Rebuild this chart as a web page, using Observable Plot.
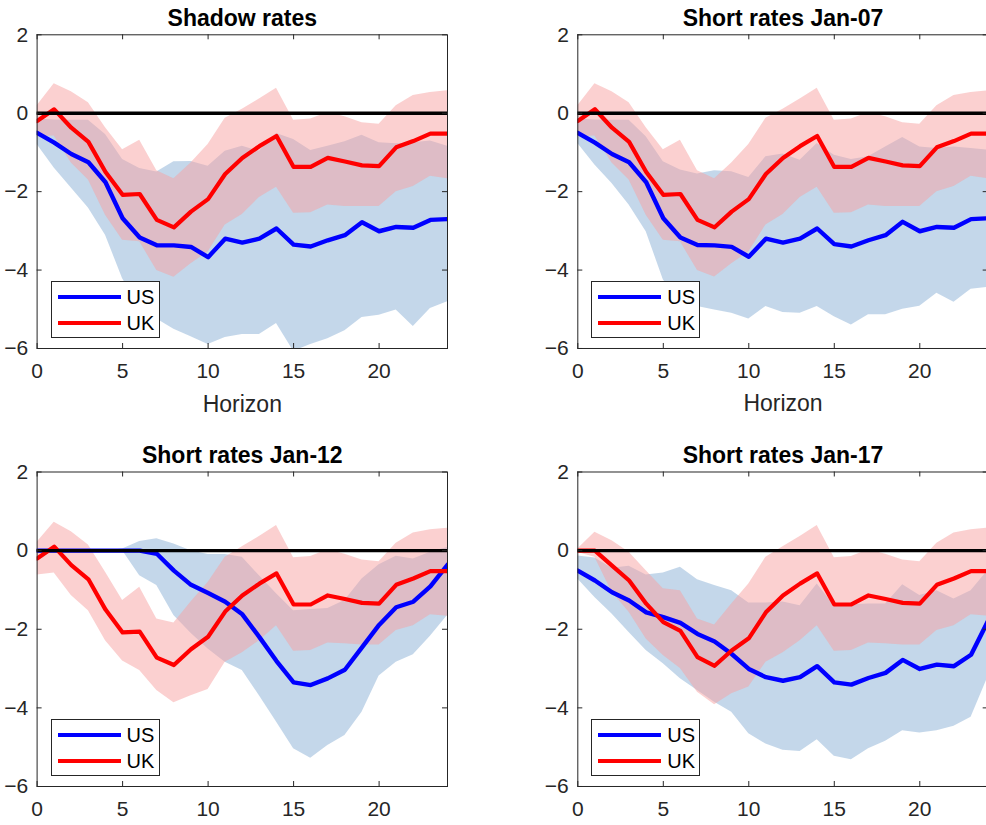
<!DOCTYPE html>
<html>
<head>
<meta charset="utf-8">
<script src="https://cdn.jsdelivr.net/npm/d3@7"></script>
<script src="https://cdn.jsdelivr.net/npm/@observablehq/plot@0.6"></script>
<style>
  html, body { margin: 0; padding: 0; background: #fff; }
  #wrap { position: relative; width: 986px; height: 825px; overflow: hidden; background: #fff; font-family: "Liberation Sans", Arial, Helvetica, sans-serif; }
  .panel { position: absolute; }
  .legend { position: absolute; width: 107px; height: 55px; border: 1px solid #262626; background: #fff; }
  .legend .sw { position: absolute; left: 6px; width: 63px; height: 4px; }
  .legend .lb { position: absolute; left: 75px; font-size: 20px; line-height: 20px; color: #000; }
</style>
</head>
<body>
<div id="wrap"></div>
<script>
// ---------------- data ----------------
const horizon = [0,1,2,3,4,5,6,7,8,9,10,11,12,13,14,15,16,17,18,19,20,21,22,23,24];
const xTicks = [0,5,10,15,20];
const yTicks = [-6,-4,-2,0,2];
const panelTitles = ["Shadow rates","Short rates Jan-07","Short rates Jan-12","Short rates Jan-17"];
const xAxisLabel = "Horizon";
const seriesNames = ["US","UK"];

// US responses (blue line) and bands
const usShadow = [-0.50,-0.75,-1.04,-1.25,-1.76,-2.68,-3.17,-3.37,-3.37,-3.41,-3.67,-3.20,-3.30,-3.20,-2.94,-3.35,-3.40,-3.24,-3.11,-2.78,-3.01,-2.90,-2.92,-2.72,-2.70];
const usHiShadow = [-0.15,-0.17,-0.18,-0.18,-0.54,-1.18,-1.41,-1.50,-1.24,-1.23,-1.35,-0.97,-0.84,-0.97,-0.52,-0.67,-0.95,-0.84,-0.73,-0.56,-0.75,-0.78,-0.75,-0.71,-0.84];
const usLoShadow = [-0.80,-1.40,-1.91,-2.42,-3.11,-4.22,-4.95,-5.25,-5.51,-5.70,-5.90,-5.72,-5.64,-5.64,-5.36,-6.07,-5.90,-5.75,-5.55,-5.21,-5.15,-5.02,-5.44,-4.98,-4.81];

const usJan07 = [-0.50,-0.75,-1.04,-1.25,-1.76,-2.68,-3.17,-3.36,-3.37,-3.41,-3.66,-3.20,-3.30,-3.20,-2.94,-3.34,-3.40,-3.24,-3.11,-2.77,-3.01,-2.90,-2.92,-2.70,-2.68];
const usHiJan07 = [-0.15,-0.17,-0.18,-0.18,-0.60,-1.24,-1.45,-1.55,-1.47,-1.49,-1.64,-1.11,-1.04,-1.20,-0.77,-1.07,-1.18,-1.11,-0.86,-0.62,-0.86,-0.90,-0.86,-0.90,-0.94];
const usLoJan07 = [-0.77,-1.32,-1.79,-2.34,-3.02,-4.25,-4.86,-4.93,-5.02,-5.10,-5.25,-4.93,-5.08,-5.10,-4.93,-5.19,-5.40,-5.14,-5.14,-5.00,-4.92,-4.59,-4.82,-4.49,-4.44];

const usJan12 = [0,0,0,0,0,0,0,-0.08,-0.51,-0.87,-1.08,-1.30,-1.62,-2.20,-2.81,-3.35,-3.42,-3.25,-3.03,-2.46,-1.89,-1.44,-1.30,-0.91,-0.36];
const usHiJan12 = [0,0,0,0,0,0.04,0.23,0.30,0.17,0.00,-0.10,-0.10,-0.17,-0.64,-1.10,-1.53,-1.50,-1.47,-1.27,-0.72,-0.36,-0.14,-0.21,-0.04,0.08];
const usLoJan12 = [0,0,0,0,0,0,-0.64,-0.89,-1.65,-2.10,-2.50,-2.84,-3.05,-3.69,-4.36,-5.04,-5.28,-4.96,-4.70,-4.11,-3.19,-2.84,-2.65,-2.18,-1.65];

const usJan17 = [-0.51,-0.76,-1.06,-1.27,-1.57,-1.69,-1.84,-2.12,-2.31,-2.63,-3.01,-3.22,-3.31,-3.22,-2.94,-3.35,-3.41,-3.24,-3.11,-2.78,-3.01,-2.90,-2.94,-2.65,-1.78];
const usHiJan17 = [-0.14,-0.19,-0.45,-0.40,-0.62,-0.57,-0.42,-0.74,-0.89,-1.02,-1.33,-1.33,-1.31,-1.40,-0.85,-1.40,-1.38,-1.36,-1.36,-0.87,-1.14,-1.02,-1.23,-1.02,-0.50];
const usLoJan17 = [-0.72,-1.19,-1.61,-2.08,-2.54,-2.88,-3.26,-3.56,-3.86,-4.11,-4.66,-4.92,-5.08,-5.11,-4.81,-5.23,-5.32,-5.04,-4.85,-4.58,-4.64,-4.58,-4.47,-4.24,-3.20];

// UK responses (red line) and bands
const ukMain = [-0.20,0.10,-0.37,-0.73,-1.50,-2.08,-2.06,-2.72,-2.91,-2.51,-2.19,-1.55,-1.14,-0.84,-0.58,-1.37,-1.37,-1.14,-1.23,-1.33,-1.35,-0.87,-0.71,-0.52,-0.52];
const ukHiMain = [0.19,0.75,0.55,0.27,-0.37,-0.93,-0.69,-1.47,-1.67,-1.27,-0.80,-0.13,0.10,0.36,0.64,-0.18,-0.15,0.02,-0.09,-0.24,-0.28,0.19,0.45,0.53,0.57];
const ukLoMain = [-0.60,-0.58,-1.27,-1.70,-2.60,-3.24,-3.28,-4.01,-4.18,-3.84,-3.54,-2.85,-2.58,-2.15,-1.89,-2.55,-2.54,-2.34,-2.38,-2.38,-2.38,-2.00,-1.87,-1.61,-1.67];

const ukHiJan12 = [0.21,0.72,0.48,0.14,-0.55,-1.27,-0.93,-1.74,-1.84,-1.31,-0.81,-0.17,0.10,0.36,0.64,-0.18,-0.15,0.02,-0.09,-0.24,-0.28,0.19,0.45,0.53,0.57];
const ukLoJan12 = [-0.62,-0.57,-1.14,-1.53,-2.29,-2.81,-3.05,-3.56,-3.87,-3.69,-3.53,-2.84,-2.60,-2.29,-1.91,-2.56,-2.54,-2.35,-2.37,-2.40,-2.40,-2.03,-1.91,-1.63,-1.67];

const ukJan17 = [0,0,-0.38,-0.76,-1.35,-1.82,-2.04,-2.71,-2.93,-2.54,-2.23,-1.57,-1.14,-0.84,-0.58,-1.37,-1.37,-1.14,-1.23,-1.33,-1.35,-0.87,-0.71,-0.52,-0.52];
const ukHiJan17 = [0.04,0.47,0.25,-0.04,-0.51,-0.97,-1.02,-1.74,-1.89,-1.36,-0.85,-0.17,0.10,0.36,0.64,-0.18,-0.15,0.02,-0.09,-0.24,-0.28,0.19,0.45,0.53,0.57];
const ukLoJan17 = [-0.05,-0.17,-1.06,-1.57,-2.25,-2.67,-3.00,-3.60,-3.92,-3.64,-3.47,-2.84,-2.60,-2.29,-1.91,-2.56,-2.54,-2.35,-2.37,-2.40,-2.40,-2.03,-1.91,-1.63,-1.67];

// ---------------- styles ----------------
const BLUE = "#0000ff", RED = "#ff0000";
const BLUE_BAND = "rgb(137,176,214)", RED_BAND = "rgb(247,161,161)";
const AXIS = "#262626";
const FONT = "'Liberation Sans', Arial, Helvetica, sans-serif";

const panels = [
  {title: panelTitles[0], us: usShadow, usHi: usHiShadow, usLo: usLoShadow, uk: ukMain, ukHi: ukHiMain, ukLo: ukLoMain,
   left: 0, top: 0, mL: 36.6, mR: 46, mT: 34.3, innerH: 313.7, height: 425, xLabel: xAxisLabel},
  {title: panelTitles[1], us: usJan07, usHi: usHiJan07, usLo: usLoJan07, uk: ukMain, ukHi: ukHiMain, ukLo: ukLoMain,
   left: 540, top: 0, mL: 37.3, mR: 10, mT: 34.3, innerH: 313.7, height: 425, xLabel: xAxisLabel},
  {title: panelTitles[2], us: usJan12, usHi: usHiJan12, usLo: usLoJan12, uk: ukMain, ukHi: ukHiJan12, ukLo: ukLoJan12,
   left: 0, top: 437, mL: 36.6, mR: 46, mT: 34.5, innerH: 314.5, height: 388, xLabel: null},
  {title: panelTitles[3], us: usJan17, usHi: usHiJan17, usLo: usLoJan17, uk: ukJan17, ukHi: ukHiJan17, ukLo: ukLoJan17,
   left: 540, top: 437, mL: 37.3, mR: 10, mT: 34.5, innerH: 314.5, height: 388, xLabel: null}
];
const innerW = 410.4;

const wrap = document.getElementById("wrap");

for (const p of panels) {
  const rows = horizon.map((h, i) => ({h, us: p.us[i], usHi: p.usHi[i], usLo: p.usLo[i], uk: p.uk[i], ukHi: p.ukHi[i], ukLo: p.ukLo[i]}));
  const width = p.mL + innerW + p.mR;
  const mB = p.height - p.mT - p.innerH;
  const marks = [
    Plot.areaY(rows, {x: "h", y1: "usLo", y2: "usHi", fill: BLUE_BAND, fillOpacity: 0.5, clip: true}),
    Plot.areaY(rows, {x: "h", y1: "ukLo", y2: "ukHi", fill: RED_BAND, fillOpacity: 0.5, clip: true}),
    Plot.lineY(rows, {x: "h", y: "us", stroke: BLUE, strokeWidth: 4.4, clip: true}),
    Plot.lineY(rows, {x: "h", y: "uk", stroke: RED, strokeWidth: 4.2, clip: true}),
    Plot.ruleY([0], {stroke: "#000", strokeWidth: 3.4}),
    Plot.frame({stroke: AXIS, strokeWidth: 1}),
    Plot.tickX(xTicks, {x: d => d, insetTop: p.innerH - 5, stroke: AXIS}),
    Plot.tickX(xTicks, {x: d => d, insetBottom: p.innerH - 5, stroke: AXIS}),
    Plot.tickY(yTicks, {y: d => d, insetLeft: innerW - 5, stroke: AXIS}),
    Plot.tickY(yTicks, {y: d => d, insetRight: innerW - 5, stroke: AXIS}),
    Plot.axisX({ticks: xTicks, tickSize: 0, tickPadding: 15, fontSize: 21, color: AXIS, label: null}),
    Plot.axisY({ticks: yTicks, tickSize: 0, tickPadding: 9, fontSize: 21, color: AXIS, label: null}),
    Plot.text([p.title], {text: d => d, frameAnchor: "top", lineAnchor: "bottom", dy: -9,
                fontSize: 23, fontWeight: "bold", fill: "#000"})
  ];
  if (p.xLabel) {
    marks.push(Plot.text([p.xLabel], {text: d => d, frameAnchor: "bottom", lineAnchor: "bottom", dy: 63,
                fontSize: 23, fill: AXIS}));
  }
  const chart = Plot.plot({
    width, height: p.height,
    marginLeft: p.mL, marginRight: p.mR, marginTop: p.mT, marginBottom: mB,
    style: {fontFamily: FONT, fontSize: "21px", color: AXIS, background: "transparent", overflow: "visible"},
    x: {domain: [0, 24], ticks: xTicks},
    y: {domain: [-6, 2], ticks: yTicks},
    marks
  });
  chart.classList.add("panel");
  chart.style.left = p.left + "px";
  chart.style.top = p.top + "px";
  wrap.appendChild(chart);

  // legend box
  const lg = document.createElement("div");
  lg.className = "legend";
  lg.style.left = (p.left + p.mL + 14) + "px";
  lg.style.top = (p.top + p.mT + p.innerH - 10 - 57) + "px";
  const colors = [BLUE, RED];
  seriesNames.forEach((name, i) => {
    const sw = document.createElement("div");
    sw.className = "sw";
    sw.style.top = (13 + 26 * i) + "px";
    sw.style.background = colors[i];
    const lb = document.createElement("div");
    lb.className = "lb";
    lb.style.top = (5 + 26 * i) + "px";
    lb.textContent = name;
    lg.appendChild(sw);
    lg.appendChild(lb);
  });
  wrap.appendChild(lg);
}
</script>
</body>
</html>
